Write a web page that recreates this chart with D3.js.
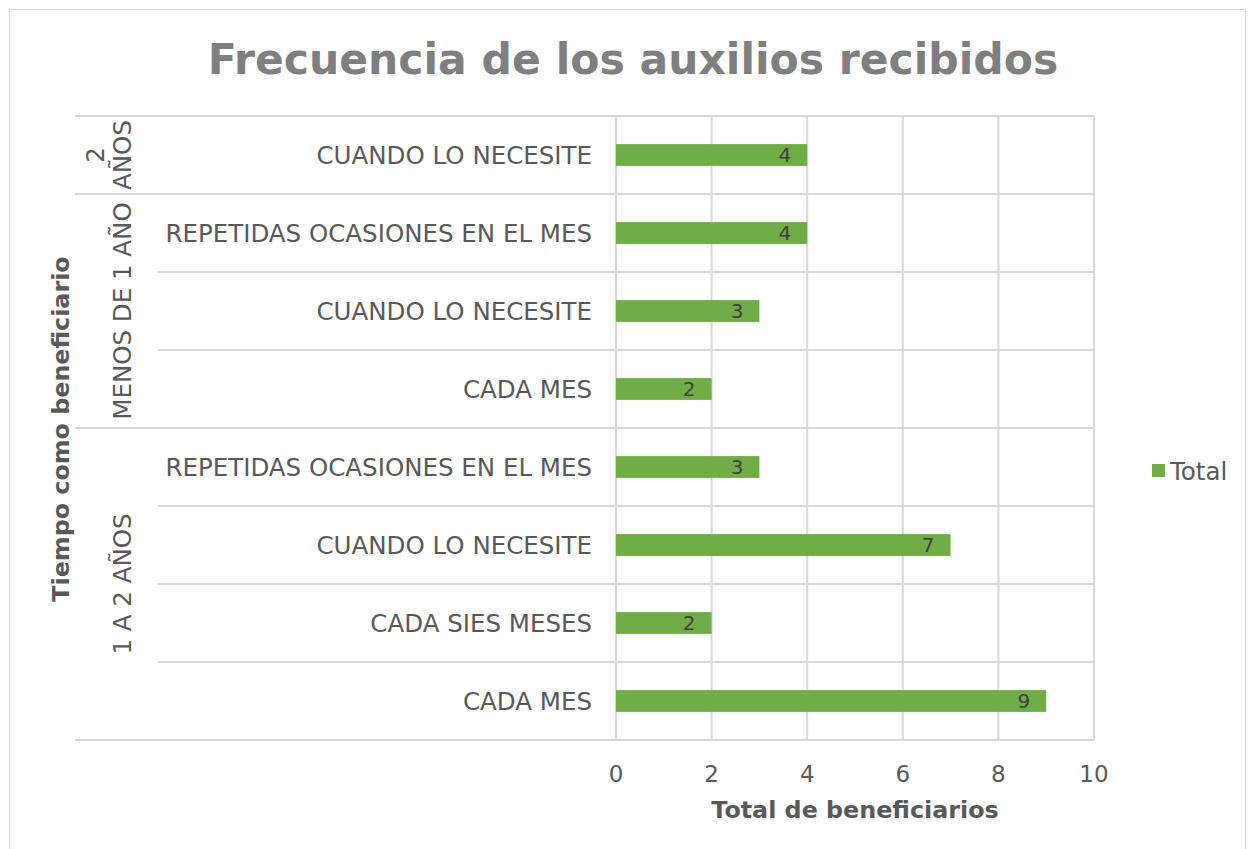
<!DOCTYPE html>
<html>
<head>
<meta charset="utf-8">
<script src="https://cdn.jsdelivr.net/npm/d3@7"></script>
<style>
  body { margin: 0; background: #fff; }
  svg text { font-family: "DejaVu Sans", Verdana, sans-serif; }
</style>
</head>
<body>
<svg id="chart" width="1248" height="849"></svg>
<script>
// data, top row first
var groupNames = [["2", "AÑOS"], ["MENOS DE 1 AÑO"], ["1 A 2 AÑOS"]];
var groupSizes = [1, 3, 4];
var categories = ["CUANDO LO NECESITE", "REPETIDAS OCASIONES EN EL MES", "CUANDO LO NECESITE", "CADA MES",
                  "REPETIDAS OCASIONES EN EL MES", "CUANDO LO NECESITE", "CADA SIES MESES", "CADA MES"];
var values = [4, 4, 3, 2, 3, 7, 2, 9];
var xTicks = [0, 2, 4, 6, 8, 10];

var svg = d3.select("#chart");
var gridColor = "#d9d9d9";
var textColor = "#595959";

// outer border
svg.append("rect")
    .attr("x", 9.5).attr("y", 9.5)
    .attr("width", 1236).attr("height", 840)
    .attr("fill", "none").attr("stroke", gridColor);

var plotLeft = 616, plotRight = 1094, plotTop = 116, plotBottom = 740;

var x = d3.scaleLinear().domain([0, 10]).range([plotLeft, plotRight]);
var y = d3.scaleBand().domain(d3.range(values.length)).range([plotTop, plotBottom]).paddingInner(0.72).paddingOuter(0.36);
var rowH = (plotBottom - plotTop) / values.length;

// title
svg.append("text")
    .attr("x", 633).attr("y", 74)
    .attr("text-anchor", "middle")
    .attr("font-size", 42.5).attr("font-weight", "bold")
    .attr("fill", "#7f7f7f")
    .text("Frecuencia de los auxilios recibidos");

// vertical gridlines
svg.selectAll(".vgrid").data(xTicks).enter().append("line")
    .attr("x1", function(d) { return x(d); }).attr("x2", function(d) { return x(d); })
    .attr("y1", plotTop).attr("y2", plotBottom)
    .attr("stroke", gridColor).attr("stroke-width", 2);

// row separators, group boundaries run further left
var groupStarts = [0];
groupSizes.forEach(function(s, i) { groupStarts.push(groupStarts[i] + s); });
svg.selectAll(".hgrid").data(d3.range(values.length + 1)).enter().append("line")
    .attr("x1", function(i) { return groupStarts.indexOf(i) >= 0 ? 75 : 158; })
    .attr("x2", plotRight)
    .attr("y1", function(i) { return plotTop + i * rowH; })
    .attr("y2", function(i) { return plotTop + i * rowH; })
    .attr("stroke", gridColor).attr("stroke-width", 2);

// bars
svg.selectAll(".bar").data(values).enter().append("rect")
    .attr("x", x(0))
    .attr("y", function(d, i) { return y(i); })
    .attr("width", function(d) { return x(d) - x(0); })
    .attr("height", y.bandwidth())
    .attr("fill", "#70ad47");

// data labels
svg.selectAll(".val").data(values).enter().append("text")
    .attr("x", function(d) { return x(d) - 16; })
    .attr("y", function(d, i) { return y(i) + y.bandwidth() / 2; })
    .attr("dy", "0.36em")
    .attr("text-anchor", "end")
    .attr("font-size", 20).attr("fill", "#404040")
    .text(function(d) { return d; });

// category labels
svg.selectAll(".cat").data(categories).enter().append("text")
    .attr("x", 592)
    .attr("y", function(d, i) { return y(i) + y.bandwidth() / 2; })
    .attr("dy", "0.36em")
    .attr("text-anchor", "end")
    .attr("font-size", 24.5).attr("fill", textColor)
    .text(function(d) { return d; });

// group labels (rotated)
groupNames.forEach(function(lines, g) {
    var cy = plotTop + (groupStarts[g] + groupSizes[g] / 2) * rowH;
    var t = svg.append("text")
        .attr("transform", "translate(122," + cy + ") rotate(-90)")
        .attr("text-anchor", "middle")
        .attr("font-size", 24.5).attr("fill", textColor);
    lines.forEach(function(line, k) {
        t.append("tspan")
            .attr("x", 0)
            .attr("y", (k - (lines.length - 1)) * 27)
            .attr("dy", "0.36em")
            .text(line);
    });
});

// x tick labels
svg.selectAll(".tick").data(xTicks).enter().append("text")
    .attr("x", function(d) { return x(d); })
    .attr("y", 782)
    .attr("text-anchor", "middle")
    .attr("font-size", 23).attr("fill", textColor)
    .text(function(d) { return d; });

// axis titles
svg.append("text")
    .attr("x", 855).attr("y", 818)
    .attr("text-anchor", "middle")
    .attr("font-size", 23.8).attr("font-weight", "bold").attr("fill", textColor)
    .text("Total de beneficiarios");

svg.append("text")
    .attr("transform", "translate(60,429) rotate(-90)")
    .attr("dy", "0.36em")
    .attr("text-anchor", "middle")
    .attr("font-size", 23.8).attr("font-weight", "bold").attr("fill", textColor)
    .text("Tiempo como beneficiario");

// legend
svg.append("rect")
    .attr("x", 1152).attr("y", 464).attr("width", 13).attr("height", 13)
    .attr("fill", "#70ad47");
svg.append("text")
    .attr("x", 1170).attr("y", 471).attr("dy", "0.36em")
    .attr("font-size", 24.5).attr("fill", textColor)
    .text("Total");
</script>
</body>
</html>
